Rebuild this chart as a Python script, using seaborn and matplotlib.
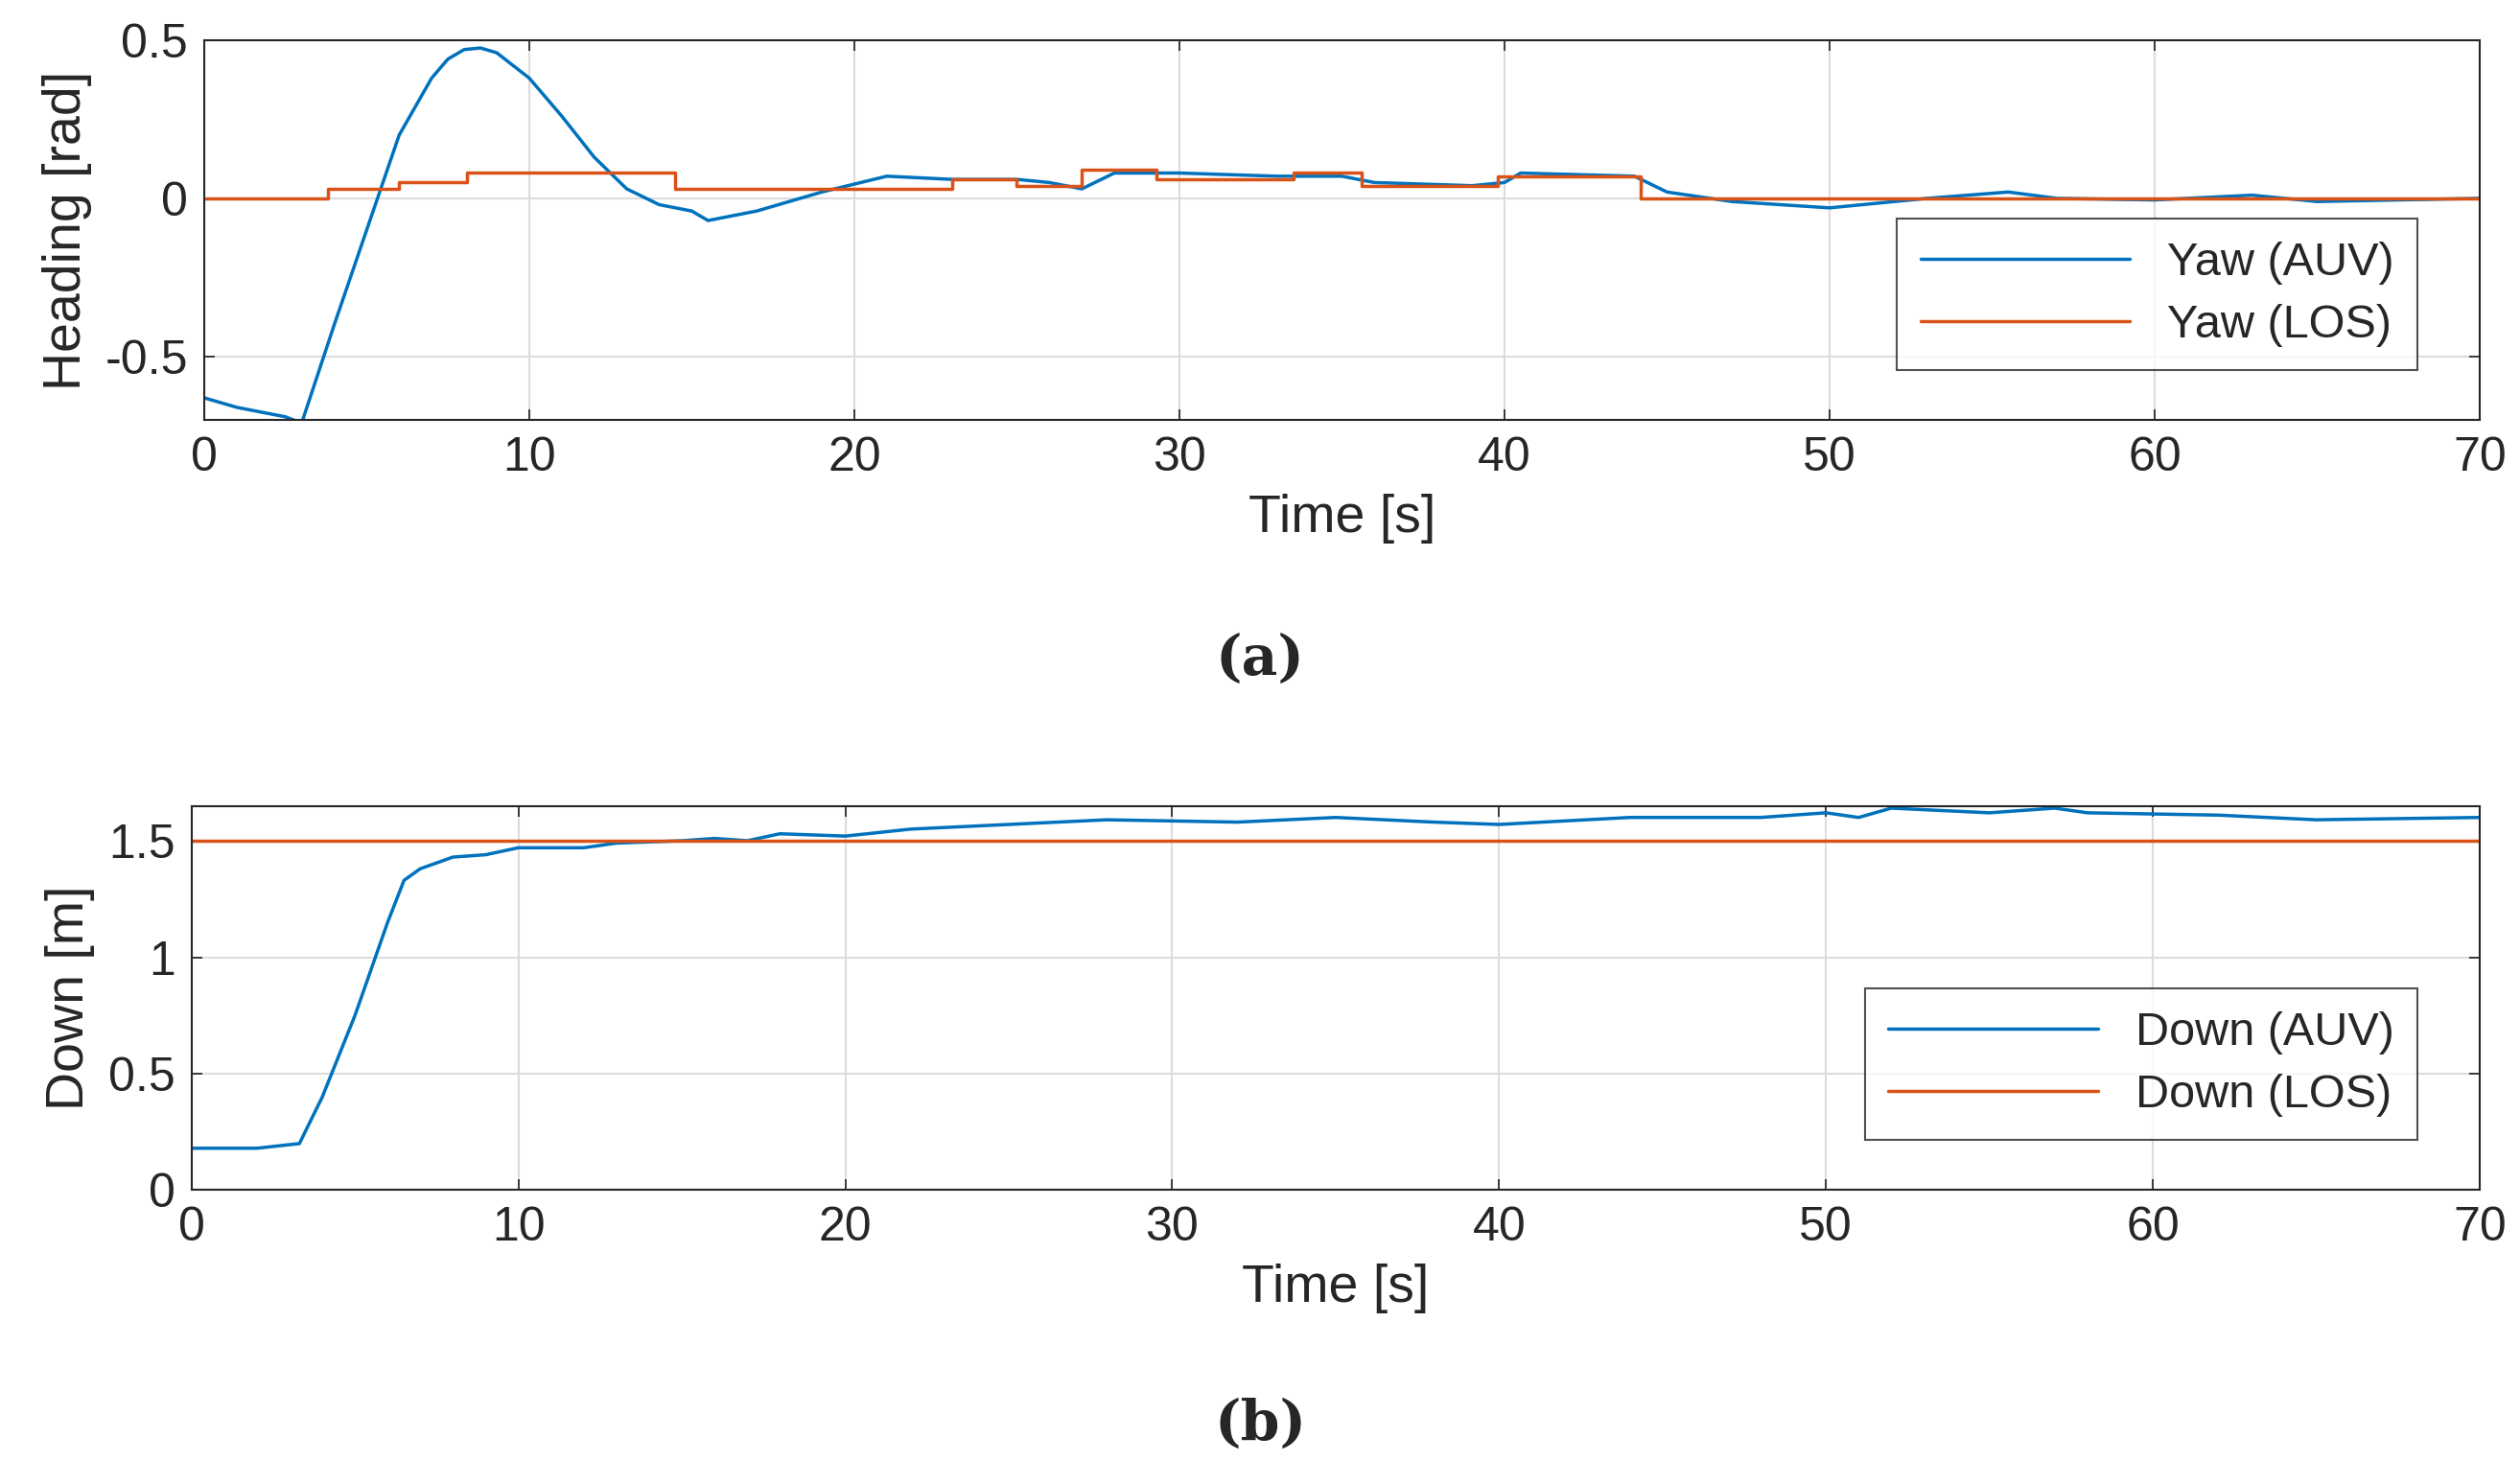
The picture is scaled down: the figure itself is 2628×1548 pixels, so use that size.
import matplotlib
matplotlib.use("Agg")
import matplotlib.pyplot as plt
import seaborn as sns

sns.set_theme(style="whitegrid")
plt.rcParams['font.family'] = ['Liberation Sans', 'DejaVu Sans']

yaw_t = [0,1,2,2.5,3,4,5,6,7,7.5,8,8.5,9,10,11,12,13,14,15,15.5,17,19,21,23,25,26,27,28,30,33,35,36,39,40,40.5,44,45,47,50,53,55.5,57,60,63,65,70]
yaw_auv = [-0.63,-0.66,-0.68,-0.69,-0.71,-0.4,-0.1,0.2,0.38,0.44,0.47,0.475,0.46,0.38,0.26,0.13,0.03,-0.02,-0.04,-0.07,-0.04,0.02,0.07,0.06,0.06,0.05,0.03,0.08,0.08,0.07,0.07,0.05,0.04,0.05,0.08,0.07,0.02,-0.01,-0.03,0.0,0.02,0.0,-0.005,0.01,-0.01,0.0]
los_t = [0,3.8,6,8.1,14.5,23,25,27,29.3,33.5,35.6,39.8,44.2,70]
los_yaw = [0,0.03,0.05,0.08,0.03,0.06,0.04,0.09,0.06,0.08,0.04,0.07,0,0]

down_t = [0,2,3.3,4,5,6,6.5,7,8,9,10,12,13,15,16,17,18,20,22,25,28,32,35,38,40,44,48,50,51,52,55,57,58,62,65,70]
down_auv = [0.18,0.18,0.2,0.4,0.75,1.15,1.33,1.38,1.43,1.44,1.47,1.47,1.49,1.5,1.51,1.5,1.53,1.52,1.55,1.57,1.59,1.58,1.6,1.58,1.57,1.6,1.6,1.62,1.6,1.64,1.62,1.64,1.62,1.61,1.59,1.6]
down_los_t = [0,70]
down_los = [1.5,1.5]

BLUE, ORANGE = "#0072BD", "#D95319"
fig = plt.figure(figsize=(26.28,15.48), dpi=100)
ax1 = fig.add_axes([0.081,0.717,0.903,0.256])
ax2 = fig.add_axes([0.076,0.198,0.908,0.259])

def style(ax):
    ax.set_facecolor("white")
    for s in ax.spines.values():
        s.set_color("#262626"); s.set_linewidth(1.5)
    ax.grid(True, color="#dcdcdc", linewidth=1.5)
    ax.tick_params(labelsize=36, direction="in", length=8, pad=12, left=True, bottom=True, top=True, right=True, labeltop=False, labelright=False)

sns.lineplot(x=yaw_t, y=yaw_auv, ax=ax1, color=BLUE, lw=2.5, label="Yaw (AUV)")
sns.lineplot(x=los_t, y=los_yaw, ax=ax1, color=ORANGE, lw=2.5, drawstyle="steps-post", label="Yaw (LOS)")
ax1.set_xlim(0,70); ax1.set_ylim(-0.7,0.5)
ax1.set_yticks([-0.5,0,0.5]); ax1.set_yticklabels(["-0.5","0","0.5"])
ax1.set_xticks(range(0,71,10))
ax1.set_xlabel("Time [s]", fontsize=40, labelpad=10); ax1.set_ylabel("Heading [rad]", fontsize=40, labelpad=10)

sns.lineplot(x=down_t, y=down_auv, ax=ax2, color=BLUE, lw=2.5, label="Down (AUV)")
sns.lineplot(x=down_los_t, y=down_los, ax=ax2, color=ORANGE, lw=2.5, label="Down (LOS)")
ax2.set_xlim(0,70); ax2.set_ylim(0,1.65)
ax2.set_yticks([0,0.5,1,1.5]); ax2.set_yticklabels(["0","0.5","1","1.5"])
ax2.set_xticks(range(0,71,10))
ax2.set_xlabel("Time [s]", fontsize=40, labelpad=10); ax2.set_ylabel("Down [m]", fontsize=40, labelpad=10)

for ax in (ax1, ax2):
    style(ax)
    leg = ax.legend(loc="lower right", bbox_to_anchor=(0.983,0.07), fontsize=35, frameon=True,
                    fancybox=False, handlelength=4.5, borderpad=0.5, labelspacing=0.4)
    leg.get_frame().set_edgecolor("#262626"); leg.get_frame().set_linewidth(1.5)

fig.text(0.5, 0.545, "(a)", ha="center", fontsize=42, family="DejaVu Serif", fontweight="bold")
fig.text(0.5, 0.03, "(b)", ha="center", fontsize=42, family="DejaVu Serif", fontweight="bold")
fig.savefig("out.png", dpi=100)
